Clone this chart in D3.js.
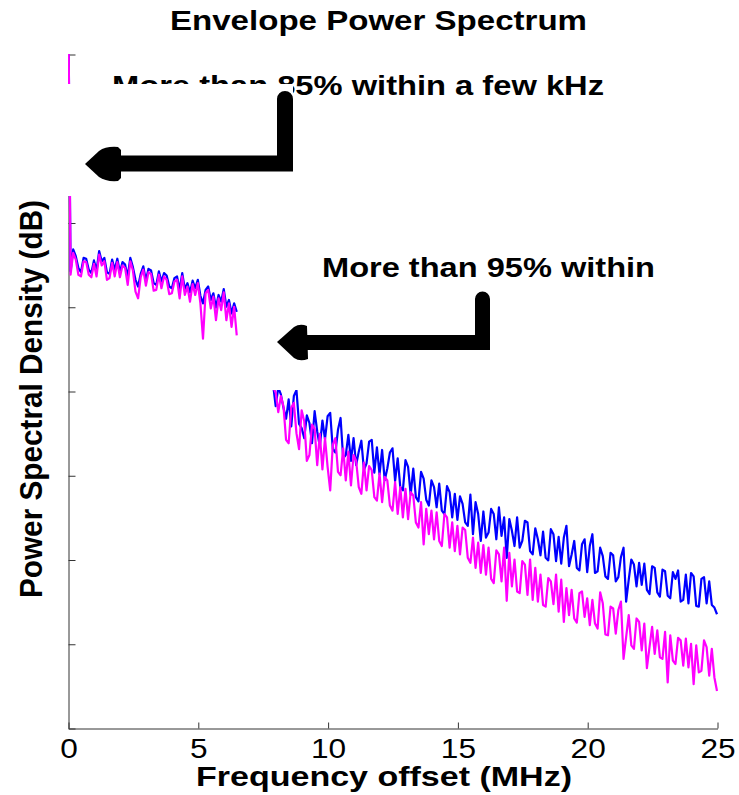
<!DOCTYPE html>
<html>
<head>
<meta charset="utf-8">
<script src="https://cdn.jsdelivr.net/npm/d3@7"></script>
<style>
  html, body { margin: 0; padding: 0; background: #fff; }
  svg { display: block; }
  text { font-family: Arial, "Liberation Sans", Helvetica, sans-serif; fill: #000; }
</style>
</head>
<body>
<svg id="chart" width="739" height="795"></svg>
<script>
// ---------------- data ----------------
const title = "Envelope Power Spectrum";
const xLabel = "Frequency offset (MHz)";
const yLabel = "Power Spectral Density (dB)";
const note1 = "More than 85% within a few kHz";
const note2 = "More than 95% within";

const xTicks = [0, 5, 10, 15, 20, 25];
const yTicks = [-80, -70, -60, -50, -40, -30, -20, -10, 0];
const freqStep = 0.1;             // MHz between samples
const segAStart = 0.0;            // MHz, first visible segment
const segBStart = 7.9;            // MHz, second visible segment

// Blue trace, segment A (0.0 - 6.5 MHz), dB
const blueA = [
  10, -25.8, -23.2, -24.0, -25.4, -25.9, -24.2, -24.3, -25.6, -26.0,
  -24.5, -25.7, -23.4, -24.6, -24.2, -25.9, -26.1, -24.4, -25.6, -24.3,
  -25.9, -24.7, -25.0, -26.4, -24.2, -25.3, -26.8, -27.6, -26.1, -25.2,
  -26.9, -25.5, -25.7, -27.2, -27.4, -25.8, -27.0, -26.0, -26.3, -27.6,
  -27.8, -26.6, -26.4, -28.0, -26.0, -27.9, -27.2, -28.3, -26.9, -27.8,
  -26.8, -28.7, -29.6, -28.0, -27.6, -29.2, -28.4, -30.1, -28.6, -29.4,
  -27.9, -30.0, -29.2, -30.8, -29.6, -30.6
];
// Magenta trace, segment A (0.0 - 6.5 MHz), dB
const magentaA = [
  10, -26.2, -23.6, -24.4, -26.2, -26.4, -24.6, -24.7, -26.2, -26.5,
  -24.9, -26.4, -23.8, -25.1, -24.6, -26.8, -26.6, -24.8, -26.4, -24.7,
  -26.5, -25.1, -25.4, -27.4, -24.6, -25.7, -28.2, -29.0, -26.5, -25.6,
  -27.5, -25.9, -26.1, -28.1, -28.0, -26.2, -27.8, -26.4, -26.8, -28.5,
  -28.4, -27.0, -26.8, -29.0, -26.4, -28.6, -27.6, -29.4, -27.3, -28.6,
  -27.2, -29.6, -33.8, -28.4, -28.0, -30.2, -28.8, -31.6, -29.0, -30.4,
  -28.3, -31.6, -29.6, -32.4, -30.0, -33.4
];
// Blue trace, segment B (7.9 - 25.0 MHz), dB
const blueB = [
  -39.2,
  -41.8, -39.6, -40.4, -42.0, -43.3, -41.0, -44.2, -40.6, -39.9, -43.9,
  -44.4, -45.6, -42.9, -43.8, -46.2, -42.4, -44.8, -46.6, -43.5, -45.7,
  -43.0, -42.6, -46.9, -47.3, -44.6, -43.2, -48.0, -47.6, -45.2, -48.3,
  -45.6, -48.8, -47.2, -45.9, -49.4, -48.6, -46.0, -45.8, -49.7, -46.7,
  -49.9, -47.0, -50.6, -49.2, -47.3, -46.8, -50.7, -48.0, -51.4, -51.8,
  -48.2, -49.0, -52.3, -49.2, -52.6, -53.1, -49.6, -50.4, -52.9, -53.6,
  -50.6, -51.4, -53.8, -51.0, -54.2, -54.6, -51.3, -52.0, -55.0, -52.2,
  -55.3, -52.5, -53.4, -55.6, -56.0, -52.3, -57.0, -53.2, -54.6, -57.8,
  -54.3, -57.4, -56.8, -54.0, -54.6, -57.6, -53.8, -57.2, -55.0, -59.8,
  -55.2, -56.6, -58.4, -55.0, -58.6, -57.8, -55.4, -55.6, -59.0, -59.4,
  -56.3, -57.6, -59.5, -56.7, -59.8, -60.1, -56.4, -57.0, -60.2, -57.3,
  -60.5, -57.4, -56.0, -60.8, -59.4, -57.8, -61.0, -61.3, -58.2, -57.6,
  -61.5, -58.4, -57.0, -61.6, -61.4, -58.6, -59.6, -62.0, -62.3, -59.2,
  -59.5, -62.6, -62.1, -59.7, -58.6, -65.0, -62.4, -60.0, -60.6, -63.2,
  -60.4, -63.0, -60.5, -63.6, -64.1, -60.8, -61.0, -63.9, -64.4, -61.2,
  -61.4, -64.3, -64.6, -61.5, -62.3, -61.3, -65.0, -64.8, -61.8, -65.2,
  -61.6, -62.0, -65.5, -65.6, -62.3, -62.1, -65.2, -62.6, -65.4, -65.7,
  -66.5
];
// Magenta trace, segment B (7.9 - 25.0 MHz), dB
const magentaB = [
  -39.5,
  -40.2, -42.5, -40.6, -41.8, -45.8, -46.2, -42.0, -41.4, -45.0, -46.9,
  -42.3, -43.6, -48.3, -47.6, -44.0, -44.5, -48.8, -45.1, -49.3, -45.6,
  -49.0, -51.8, -46.4, -45.6, -49.6, -50.0, -46.8, -50.6, -47.2, -51.2,
  -47.6, -48.3, -51.4, -52.2, -48.5, -51.8, -48.9, -49.4, -52.6, -53.0,
  -49.8, -53.2, -50.2, -50.6, -53.6, -54.2, -50.8, -54.6, -51.4, -55.0,
  -51.6, -55.2, -52.0, -52.4, -55.6, -56.2, -53.2, -58.2, -54.0, -57.0,
  -54.2, -57.6, -54.4, -57.8, -58.4, -54.6, -55.0, -58.6, -55.6, -59.0,
  -56.0, -59.4, -56.2, -56.5, -59.8, -60.4, -57.4, -61.0, -58.0, -61.6,
  -58.3, -61.8, -58.6, -62.3, -62.8, -58.9, -59.4, -62.6, -58.6, -64.9,
  -59.2, -63.2, -60.0, -63.8, -64.0, -60.2, -60.6, -64.2, -60.0, -64.8,
  -61.0, -65.0, -61.8, -65.4, -65.6, -62.2, -62.6, -65.3, -61.8, -66.2,
  -62.4, -67.4, -63.4, -66.6, -63.6, -67.0, -67.5, -64.0, -63.8, -66.8,
  -64.6, -67.8, -64.8, -67.6, -68.2, -63.9, -65.2, -68.9, -69.0, -65.6,
  -65.8, -68.8, -66.0, -65.0, -71.8, -69.2, -66.6, -70.2, -70.6, -67.0,
  -67.4, -70.8, -67.6, -72.9, -70.4, -68.0, -71.2, -68.4, -71.6, -71.8,
  -68.6, -74.6, -69.0, -72.0, -72.4, -69.3, -69.6, -72.6, -69.4, -72.8,
  -70.0, -74.8, -70.2, -73.4, -73.2, -69.6, -70.4, -73.8, -70.6, -74.0,
  -75.6
];

// ---------------- layout ----------------
const svg = d3.select("#chart");
const plot = { left: 68, right: 717, top: 54, bottom: 728 };

const x = d3.scaleLinear().domain([0, 25]).range([plot.left, plot.right]);
const y = d3.scaleLinear().domain([-80, 0]).range([plot.bottom, plot.top]);

function toPoints(vals, start) {
  return vals.map((v, i) => ({ f: start + i * freqStep, v }));
}
function buildSeries(a, b) {
  return toPoints(a, segAStart).concat([{ f: null, v: null }], toPoints(b, segBStart));
}
const series = [
  { color: "#0000ff", pts: buildSeries(blueA, blueB) },
  { color: "#ff00ff", pts: buildSeries(magentaA, magentaB) }
];

svg.append("defs").append("clipPath").attr("id", "plotClip")
  .append("rect")
  .attr("x", plot.left).attr("y", plot.top)
  .attr("width", plot.right - plot.left + 4)
  .attr("height", plot.bottom - plot.top);

// axes
const axisColor = "#333";
const xAxis = d3.axisBottom(x).tickValues(xTicks).tickSizeInner(-6).tickSizeOuter(0).tickPadding(10);
const gx = svg.append("g").attr("transform", `translate(0.5,${plot.bottom + 0.5})`).call(xAxis);
gx.select(".domain").attr("stroke", axisColor);
gx.selectAll(".tick line").attr("stroke", axisColor);
gx.selectAll(".tick text")
  .attr("font-size", 28).attr("fill", "#000")
  .attr("font-family", "Arial, 'Liberation Sans', sans-serif")
  .attr("transform", "scale(1.13,1)");

const yAxis = d3.axisLeft(y).tickValues(yTicks).tickSizeInner(-7).tickSizeOuter(0).tickFormat("");
const gy = svg.append("g").attr("transform", `translate(${plot.left + 0.5},0.5)`).call(yAxis);
gy.select(".domain").attr("stroke", axisColor);
gy.selectAll(".tick line").attr("stroke", axisColor);

// traces
const line = d3.line()
  .defined(d => d.v != null)
  .x(d => x(d.f))
  .y(d => y(d.v));

const gLines = svg.append("g").attr("clip-path", "url(#plotClip)");
series.forEach(s => {
  gLines.append("path")
    .datum(s.pts)
    .attr("fill", "none")
    .attr("stroke", s.color)
    .attr("stroke-width", 2.2)
    .attr("stroke-linejoin", "round")
    .attr("d", line);
});

// title
svg.append("text")
  .attr("x", 170).attr("y", 30)
  .attr("font-size", 28).attr("font-weight", "bold")
  .attr("textLength", 417).attr("lengthAdjust", "spacingAndGlyphs")
  .text(title);

// x label
svg.append("text")
  .attr("x", 196).attr("y", 786)
  .attr("font-size", 28).attr("font-weight", "bold")
  .attr("textLength", 376).attr("lengthAdjust", "spacingAndGlyphs")
  .text(xLabel);

// y label
svg.append("text")
  .attr("transform", "translate(42,399) scale(1.15,1) rotate(-90)")
  .attr("x", -199).attr("y", 0)
  .attr("font-size", 28).attr("font-weight", "bold")
  .attr("textLength", 398).attr("lengthAdjust", "spacingAndGlyphs")
  .text(yLabel);

// annotation 1 text (partly hidden by its white backing box)
svg.append("text")
  .attr("x", 112).attr("y", 95)
  .attr("font-size", 28).attr("font-weight", "bold")
  .attr("textLength", 492).attr("lengthAdjust", "spacingAndGlyphs")
  .text(note1);

// white backing boxes of the annotations
svg.append("rect").attr("x", 55).attr("y", 84).attr("width", 238).attr("height", 112).attr("fill", "#fff");
svg.append("rect").attr("x", 238).attr("y", 240).attr("width", 262).attr("height", 150).attr("fill", "#fff");

// annotation 2 text
svg.append("text")
  .attr("x", 322).attr("y", 277)
  .attr("font-size", 28).attr("font-weight", "bold")
  .attr("textLength", 333).attr("lengthAdjust", "spacingAndGlyphs")
  .text(note2);

// arrows
function arrow(g, vx, vTop, hy, hLeft, w, head) {
  g.append("path")
    .attr("d", `M${vx},${vTop} L${vx},${hy} L${hLeft},${hy}`)
    .attr("fill", "none").attr("stroke", "#000")
    .attr("stroke-width", w).attr("stroke-linejoin", "miter").attr("stroke-linecap", "round");
  g.append("path").attr("d", head).attr("fill", "#000");
}
const ga = svg.append("g");
arrow(ga, 285, 99, 163.5, 118, 16,
  "M85,164 L99,151 Q106,146 118,147 L121,150 L121,178 L118,181 Q106,182 99,177 Z");
arrow(ga, 482.5, 299, 342.5, 304, 15,
  "M277,342 L294,327 Q300,323 307,326 L308,359 Q300,362 294,358 Z");
</script>
</body>
</html>
